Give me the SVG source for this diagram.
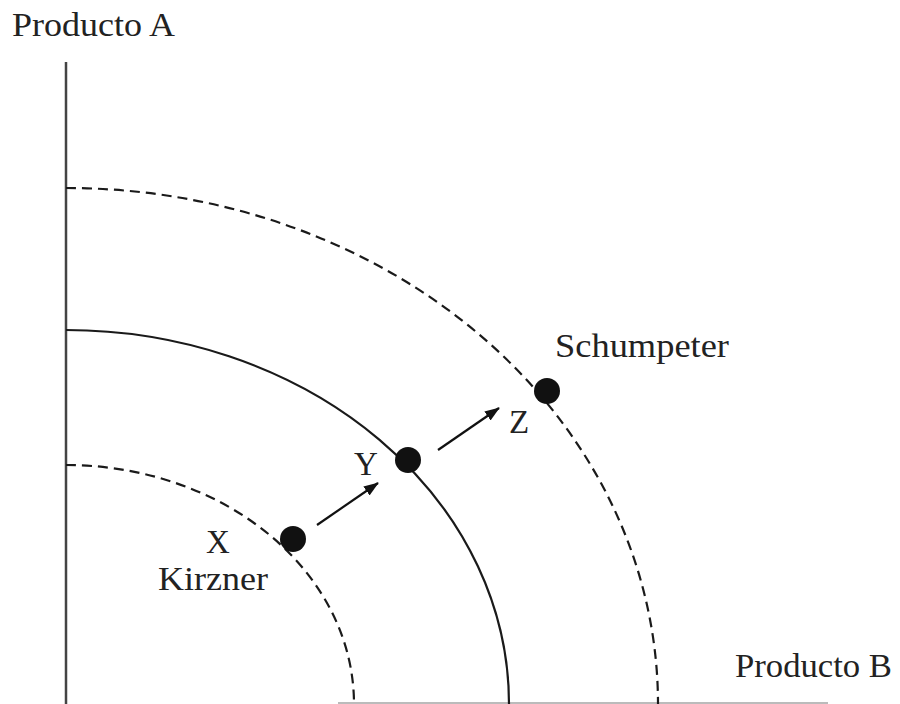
<svg xmlns="http://www.w3.org/2000/svg" width="900" height="704" viewBox="0 0 900 704">
<defs>
<style>
.lbl{font-family:"Liberation Serif","Times New Roman",serif;font-size:33px;fill:#222;}
.curve{fill:none;stroke:#1a1a1a;stroke-width:2.2;}
.dash{stroke-dasharray:10 6;}
.arrow{stroke:#111;stroke-width:2.2;marker-end:url(#ah);}
.dot{fill:#111;}
</style>
<marker id="ah" viewBox="0 0 15 11" refX="14" refY="5.5" markerWidth="15" markerHeight="11" markerUnits="userSpaceOnUse" orient="auto">
<path d="M0,0 L15,5.5 L0,11 z" fill="#111"/>
</marker>
</defs>
<rect width="900" height="704" fill="#fff"/>
<g id="axes">
<line x1="66" y1="62" x2="66" y2="704" stroke="#444" stroke-width="2.5"/>
<line x1="338" y1="703" x2="828" y2="703" stroke="#bbb" stroke-width="2"/>
<text class="lbl" x="12" y="36" textLength="163" lengthAdjust="spacingAndGlyphs">Producto A</text>
<text class="lbl" x="735" y="677" textLength="157" lengthAdjust="spacingAndGlyphs">Producto B</text>
</g>
<g id="curves">
<path id="outer" class="curve dash" d="M66,188 A592,516 0 0 1 658,704"/>
<path id="middle" class="curve" d="M66,330 A443,374 0 0 1 509,704"/>
<path id="inner" class="curve dash" d="M66,465 A288,239 0 0 1 354,704"/>
</g>
<g id="nodeX">
<circle class="dot" cx="293" cy="539" r="13"/>
<text class="lbl" x="218" y="553" text-anchor="middle">X</text>
<text class="lbl" x="158" y="590" textLength="110" lengthAdjust="spacingAndGlyphs">Kirzner</text>
</g>
<g id="nodeY">
<circle class="dot" cx="408" cy="460" r="13"/>
<text class="lbl" x="366" y="475" text-anchor="middle">Y</text>
</g>
<g id="nodeZ">
<circle class="dot" cx="547" cy="391" r="13"/>
<text class="lbl" x="519" y="433" text-anchor="middle">Z</text>
<text class="lbl" x="555" y="357" textLength="174" lengthAdjust="spacingAndGlyphs">Schumpeter</text>
</g>
<g id="connectors">
<line class="arrow" x1="317" y1="525" x2="378" y2="483"/>
<line class="arrow" x1="438" y1="450" x2="499" y2="408"/>
</g>
</svg>
